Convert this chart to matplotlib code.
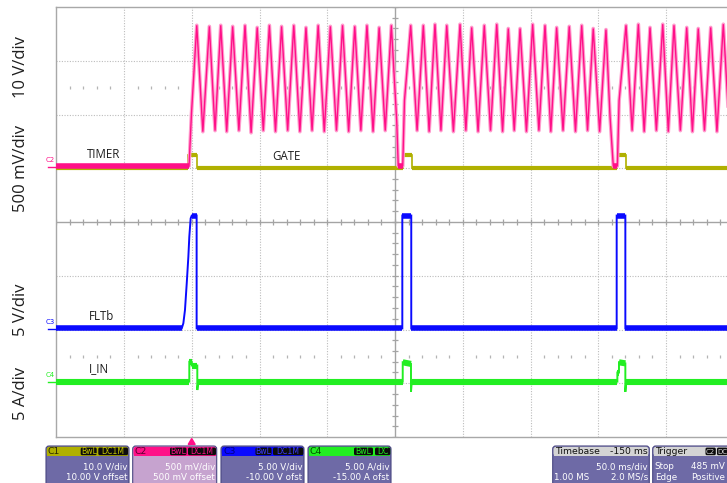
import numpy as np
import matplotlib
matplotlib.use("Agg")
import matplotlib.pyplot as plt
from matplotlib.collections import LineCollection
from matplotlib.patches import FancyBboxPatch, Rectangle, Polygon

W, H, DPI = 727, 483, 100

# ------------------------------------------------------------------ data
# horizontal: 50 ms/div, 10 div, trigger (t = 0) two divisions from the left
ms_per_div = 50.0
t_left = -100.0
n_xdiv = 10
n_ydiv = 8

# vertical settings of the channels (units per div, offset)
c1_scale, c1_offset = 10.0, 10.0    # GATE   V
c2_scale, c2_offset = 0.5, 0.5      # TIMER  V
c3_scale, c3_offset = 5.0, -10.0    # FLTb   V
c4_scale, c4_offset = 5.0, -15.0    # I_IN   A

# C2 TIMER [V] (vertices of the trace, ms)
timer_t = [-100, -2.0, -0.2, 3.7, 8.2, 13.0, 17.2, 21.4, 25.8, 30.2, 34.8, 39.3,
           43.8, 48.3, 52.8, 57.3, 61.8, 66.3, 70.8, 75.3, 79.8, 84.3, 88.8, 93.3,
           97.8, 102.3, 106.8, 111.3, 115.8, 120.3, 124.8, 129.3, 133.8, 138.3,
           142.8, 147.3, 151.3, 152.4, 155.7, 157.0, 161.6, 166.3, 170.9, 175.2,
           179.5, 183.9, 188.2, 193.1, 198.0, 202.3, 206.6, 211.3, 215.9, 220.5,
           225.1, 229.4, 233.6, 238.0, 242.3, 247.0, 251.6, 256.2, 260.7, 265.0,
           269.3, 274.0, 278.6, 283.2, 287.8, 292.1, 296.3, 301.0, 305.7, 308.7,
           311.1, 314.1, 315.4, 320.5, 325.0, 329.6, 333.9, 338.2, 342.9, 347.6,
           351.7, 355.9, 360.6, 365.3, 369.5, 373.8, 378.4, 383.0, 387.6, 392.3,
           396.8, 401.3]
timer_v = [0.02, 0.02, 0.51, 1.33, 0.34, 1.32, 0.35, 1.33, 0.34, 1.32, 0.35, 1.33,
           0.33, 1.31, 0.35, 1.33, 0.34, 1.32, 0.35, 1.33, 0.34, 1.31, 0.35, 1.33,
           0.34, 1.32, 0.35, 1.33, 0.34, 1.32, 0.35, 1.33, 0.34, 1.31,
           0.35, 1.33, 0.43, 0.02, 0.02, 0.63, 1.33, 0.35, 1.33, 0.34,
           1.34, 0.35, 1.33, 0.34, 1.34, 0.35, 1.31, 0.34, 1.33, 0.35,
           1.34, 0.34, 1.30, 0.35, 1.30, 0.34, 1.34, 0.35, 1.33, 0.34,
           1.31, 0.35, 1.32, 0.34, 1.33, 0.35, 1.30, 0.34, 1.29, 0.48,
           0.02, 0.02, 0.63, 1.33, 0.35, 1.34, 0.34, 1.31, 0.35, 1.34,
           0.34, 1.33, 0.35, 1.31, 0.34, 1.30, 0.35, 1.31, 0.34, 1.34,
           0.35, 1.33]

# C1 GATE [V]
gate_t = [-100, -2.6, -2.6, 3.6, 3.6, 156.1, 156.1, 162.3, 162.3, 314.1, 314.1,
          320.3, 320.3, 405]
gate_v = [0.1, 0.1, 2.4, 2.4, 0.1, 0.1, 2.4, 2.4, 0.1, 0.1, 2.4, 2.4, 0.1, 0.1]

# C3 FLTb [V]
fltb_t = [-100, -7.4, -6.2, -5.0, -3.7, -2.5, -1.8, -0.8, 0.0, 3.6, 3.6, 155.4,
          155.4, 162.0, 162.0, 313.6, 313.6, 320.0, 320.0, 405]
fltb_v = [0.1, 0.1, 0.58, 1.81, 4.30, 6.77, 8.63, 10.34, 10.6, 10.6, 0.1, 0.1,
          10.6, 10.6, 0.1, 0.1, 10.6, 10.6, 0.1, 0.1]

# C4 I_IN [A]
iin_t = [-100, -1.8, -1.8, 0.0, 0.0, 4.1, 4.1, 4.8, 155.7, 155.7, 161.8, 161.8,
         162.4, 314.1, 314.1, 315.3, 315.3, 320.0, 320.0, 320.6, 405]
iin_v = [0.15, 0.15, 2.0, 2.0, 1.65, 1.65, -0.63, 0.15, 0.15, 1.95, 1.8, -0.8,
         0.15, 0.15, 1.0, 1.0, 1.95, 1.85, -0.8, 0.15, 0.15]

trace_labels = ["TIMER", "GATE", "FLTb", "I_IN"]
scale_labels = ["10 V/div", "500 mV/div", "5 V/div", "5 A/div"]

# ------------------------------------------------------------------ colours
COL_C1 = "#b0b000"
COL_C2 = "#ff1088"
COL_C2_HALO = "#ff9ccd"
COL_C3 = "#0a0aff"
COL_C4 = "#22ee22"
BODY = "#6e6aa6"
BODY_SEL = "#c6a3cf"
EDGE = "#4a4782"

fig = plt.figure(figsize=(W / DPI, H / DPI), dpi=DPI)
fig.patch.set_facecolor("white")

px_per_xdiv = 67.75
px_per_ydiv = 53.75
plot_left, plot_top = 56.25, 7.0
rect = [plot_left / W, 1 - (plot_top + n_ydiv * px_per_ydiv) / H,
        n_xdiv * px_per_xdiv / W, n_ydiv * px_per_ydiv / H]

t_right = t_left + n_xdiv * ms_per_div
t_center = t_left + n_xdiv * ms_per_div / 2

# ---------------- graticule
ax = fig.add_axes(rect)
ax.set_xlim(t_left, t_right)
ax.set_ylim(-n_ydiv / 2, n_ydiv / 2)
ax.set_xticks([]); ax.set_yticks([])
for s in ["left", "top", "bottom"]:
    ax.spines[s].set_color("#a8a8a8"); ax.spines[s].set_linewidth(1.0)
ax.spines["right"].set_visible(False)
ax.set_zorder(0)
grid_kw = dict(color="#bcbcbc", lw=0.8, ls=(0, (1, 1.4)))
for k in range(1, n_xdiv):
    x = t_left + k * ms_per_div
    if abs(x - t_center) > 1e-6:
        ax.axvline(x, **grid_kw)
for k in range(1, n_ydiv):
    y = -n_ydiv / 2 + k
    if y != 0:
        ax.axhline(y, **grid_kw)
ax.axhline(0, color="#a4a4a4", lw=1.0)
ax.axvline(t_center, color="#a4a4a4", lw=1.0)
tt = np.arange(t_left, t_right + 1e-9, ms_per_div / 5)
segs = [[(x, -0.06), (x, 0.06)] for x in tt]
ax.add_collection(LineCollection(segs, colors="#a4a4a4", linewidths=0.9))
yy = np.arange(-n_ydiv / 2, n_ydiv / 2 + 1e-9, 0.2)
dx = 3.0 / px_per_xdiv * ms_per_div
segs = [[(t_center - dx, y), (t_center + dx, y)] for y in yy]
ax.add_collection(LineCollection(segs, colors="#a4a4a4", linewidths=0.9))
segs = []
for x in tt:
    if abs(((x - t_left) / ms_per_div) - round((x - t_left) / ms_per_div)) > 1e-6:
        for y0 in (2.5, -2.5):
            segs.append([(x, y0 - 0.025), (x, y0 + 0.025)])
ax.add_collection(LineCollection(segs, colors="#b4b4b4", linewidths=0.9))


def chan_axes(scale, offset, z):
    a = fig.add_axes(rect, sharex=ax)
    a.set_ylim(-n_ydiv / 2 * scale - offset, n_ydiv / 2 * scale - offset)
    a.axis("off")
    a.patch.set_visible(False)
    a.set_zorder(z)
    return a


def draw_trace(a, t, v, color, lw_thin, lw_flat, tol, halo=None):
    t = np.asarray(t, float); v = np.asarray(v, float)
    if halo is not None:
        a.plot(t, v, color=halo[0], lw=halo[1], solid_joinstyle="round")
    a.plot(t, v, color=color, lw=lw_thin, solid_joinstyle="miter")
    pts = np.column_stack([t, v])
    sg = np.stack([pts[:-1], pts[1:]], axis=1)
    flat = np.abs(np.diff(v)) < tol
    a.add_collection(LineCollection(sg[flat], colors=color, linewidths=lw_flat,
                                    capstyle="butt"))


a1 = chan_axes(c1_scale, c1_offset, 1)
draw_trace(a1, gate_t, gate_v, COL_C1, 1.2, 3.0, 0.05 * c1_scale)
a2 = chan_axes(c2_scale, c2_offset, 2)
draw_trace(a2, timer_t, timer_v, COL_C2, 1.0, 4.0, 0.05 * c2_scale,
           halo=(COL_C2_HALO, 2.6))
a3 = chan_axes(c3_scale, c3_offset, 3)
draw_trace(a3, fltb_t, fltb_v, COL_C3, 1.4, 4.0, 0.05 * c3_scale)
a4 = chan_axes(c4_scale, c4_offset, 4)
draw_trace(a4, iin_t, iin_v, COL_C4, 1.4, 4.4, 0.05 * c4_scale)

# ---------------- pixel overlay for texts and descriptor boxes
P = fig.add_axes([0, 0, 1, 1])
P.set_xlim(0, W); P.set_ylim(H, 0)
P.axis("off"); P.patch.set_visible(False); P.set_zorder(10)

LBL = dict(family="Open Sans", color="#1e1e1e")
for txt, yc in zip(scale_labels, [67, 169, 310, 394]):
    P.text(21, yc, txt, rotation=90, ha="center", va="center", fontsize=12, **LBL)
for txt, (x, y) in zip(trace_labels, [(87, 154), (272, 157), (89, 316), (89, 369)]):
    P.text(x, y, txt, ha="left", va="center", fontsize=8.3, **LBL)

for name, col, y in [("C2", COL_C2, 167), ("C3", COL_C3, 328.5), ("C4", COL_C4, 381.5)]:
    P.text(50.5, y - 6.5, name, ha="center", va="center", fontsize=5.0, color=col,
           family="DejaVu Sans")
    P.plot([47.5, 55.5], [y, y], color=col, lw=1.0)

# trigger marker
P.add_patch(Polygon([(188.2, 444.5), (195.2, 444.5), (191.7, 438.5)], closed=True,
                    color=COL_C2))

BOXF = dict(family="DejaVu Sans")
FS = 6.3


def rbox(x0, y0, w, h, fc, ec="none", lw=0.0, r=3.0, z=1):
    P.add_patch(FancyBboxPatch((x0, y0), w, h, boxstyle=f"round,pad=0,rounding_size={r}",
                               fc=fc, ec=ec, lw=lw, zorder=z))


def desc_box(x0, x1, head_col, body_col, name, name_col, badges, badge_col, lines,
             badge_fs=5.6):
    rbox(x0, 446, x1 - x0, 45, body_col, EDGE, 0.8, 3.0, 1)
    rbox(x0 + 0.8, 446.8, x1 - x0 - 1.6, 9.0, head_col, r=2.5, z=2)
    P.add_patch(Rectangle((x0 + 0.8, 451), x1 - x0 - 1.6, 4.8, fc=head_col, ec="none", zorder=2))
    P.text(x0 + 2.0, 451.6, name, ha="left", va="center", fontsize=FS + 0.4, color=name_col,
           zorder=4, **BOXF)
    for txt, bl, br in badges:
        rbox(bl, 447.6, br - bl, 7.6, "#0c0c0c", r=1.5, z=3)
        P.text((bl + br) / 2, 451.6, txt, ha="center", va="center", fontsize=badge_fs,
               color=badge_col, zorder=4, **BOXF)
    for txt, x, y, ha in lines:
        P.text(x, y, txt, ha=ha, va="center", fontsize=FS, color="white", zorder=4, **BOXF)


desc_box(46, 129, COL_C1, BODY, "C1", "#2a2a00",
         [("BwL", 80.7, 96.7), ("DC1M", 98.3, 128.0)], "#c8c800",
         [("10.0 V/div", 127.5, 466.5, "right"), ("10.00 V offset", 127.5, 477.5, "right")])
desc_box(132.7, 216.7, COL_C2, BODY_SEL, "C2", "#5a0030",
         [("BwL", 170.0, 186.5), ("DC1M", 188.0, 216.0)], COL_C2,
         [("500 mV/div", 215.2, 466.5, "right"), ("500 mV offset", 215.2, 477.5, "right")])
desc_box(221, 304, COL_C3, BODY, "C3", "#000080",
         [("BwL", 255.5, 271.5), ("DC1M", 273.0, 303.3)], "#3a3aff",
         [("5.00 V/div", 302.5, 466.5, "right"), ("-10.00 V ofst", 302.5, 477.5, "right")])
desc_box(308, 391, COL_C4, BODY, "C4", "#005000",
         [("BwL", 354.0, 373.0), ("DC", 375.0, 390.3)], COL_C4,
         [("5.00 A/div", 389.5, 466.5, "right"), ("-15.00 A ofst", 389.5, 477.5, "right")])
desc_box(552.7, 649.3, "#d4d4d4", BODY, "Timebase", "#111111", [], "#111111",
         [("50.0 ms/div", 648, 466.5, "right"), ("1.00 MS", 554.5, 477.5, "left"),
          ("2.0 MS/s", 648, 477.5, "right")])
P.text(647.5, 451.6, "-150 ms", ha="right", va="center", fontsize=FS + 0.4, color="#111111",
       zorder=4, **BOXF)
desc_box(652.7, 745, "#d4d4d4", BODY, "Trigger", "#111111",
         [("C2", 705.5, 715.8), ("DC", 717.0, 727.5)], "#d8d8d8",
         [("Stop", 654.8, 466.5, "left"), ("485 mV", 724.5, 466.5, "right"),
          ("Edge", 654.8, 477.5, "left"), ("Positive", 724.5, 477.5, "right")],
         badge_fs=5.0)

fig.savefig("out.png", dpi=DPI, facecolor="white")
